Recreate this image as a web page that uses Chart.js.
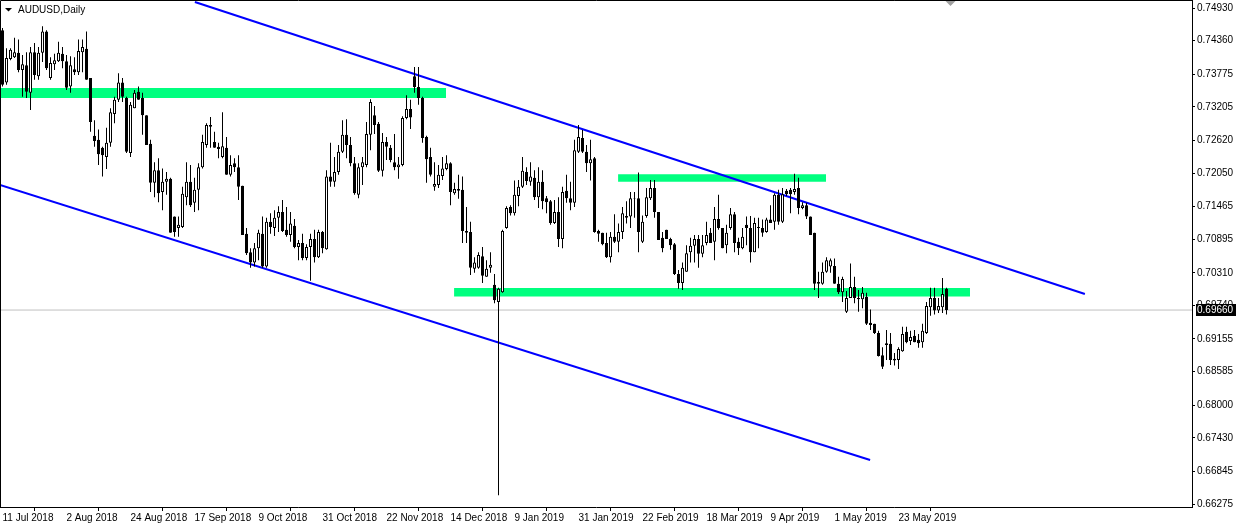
<!DOCTYPE html>
<html>
<head>
<meta charset="utf-8">
<script src="https://cdn.jsdelivr.net/npm/chart.js@4.4.1/dist/chart.umd.min.js"></script>
<style>
  html, body { margin: 0; padding: 0; background: #fff; }
  canvas { display: block; }
</style>
</head>
<body>
<canvas id="chart" width="1236" height="528"></canvas>
<script>
// AUDUSD daily bars (bar 0 = 11 Jul 2018)
const openP = [
  0.7454, 0.7363, 0.7404, 0.7407, 0.7415, 0.7385, 0.7393, 0.7345, 0.7416, 0.7374,
  0.7415, 0.7452, 0.7371, 0.7395, 0.7400, 0.7413, 0.7400, 0.7356, 0.7386, 0.7381,
  0.7416, 0.7422, 0.7371, 0.7270, 0.7263, 0.7249, 0.7233, 0.7258, 0.7308, 0.7333,
  0.7363, 0.7336, 0.7240, 0.7318, 0.7347, 0.7336, 0.7306, 0.7256, 0.7188, 0.7210,
  0.7172, 0.7190, 0.7195, 0.7129, 0.7109, 0.7111, 0.7163, 0.7190, 0.7153, 0.7176,
  0.7215, 0.7254, 0.7289, 0.7259, 0.7251, 0.7233, 0.7249, 0.7202, 0.7222, 0.7215,
  0.7183, 0.7099, 0.7067, 0.7049, 0.7074, 0.7099, 0.7042, 0.7120, 0.7109, 0.7127,
  0.7137, 0.7106, 0.7097, 0.7113, 0.7076, 0.7083, 0.7057, 0.7076, 0.7090, 0.7058,
  0.7102, 0.7072, 0.7199, 0.7190, 0.7207, 0.7242, 0.7272, 0.7254, 0.7222, 0.7167,
  0.7215, 0.7219, 0.7272, 0.7306, 0.7291, 0.7209, 0.7259, 0.7249, 0.7224, 0.7215,
  0.7219, 0.7301, 0.7317, 0.7374, 0.7355, 0.7336, 0.7268, 0.7233, 0.7181, 0.7184,
  0.7200, 0.7212, 0.7222, 0.7170, 0.7177, 0.7176, 0.7104, 0.7102, 0.7038, 0.7040,
  0.7060, 0.7024, 0.7040, 0.7010, 0.6980, 0.6997, 0.7109, 0.7146, 0.7135, 0.7165,
  0.7181, 0.7207, 0.7190, 0.7197, 0.7163, 0.7190, 0.7161, 0.7156, 0.7118, 0.7137,
  0.7090, 0.7174, 0.7161, 0.7153, 0.7242, 0.7266, 0.7242, 0.7222, 0.7231, 0.7104,
  0.7101, 0.7083, 0.7058, 0.7094, 0.7085, 0.7102, 0.7130, 0.7129, 0.7161, 0.7161,
  0.7085, 0.7130, 0.7161, 0.7179, 0.7137, 0.7092, 0.7106, 0.7090, 0.7081, 0.7029,
  0.7013, 0.7033, 0.7067, 0.7078, 0.7090, 0.7064, 0.7083, 0.7101, 0.7085, 0.7125,
  0.7109, 0.7079, 0.7109, 0.7133, 0.7085, 0.7074, 0.7115, 0.7109, 0.7067, 0.7111,
  0.7109, 0.7102, 0.7124, 0.7120, 0.7167, 0.7120, 0.7174, 0.7176, 0.7172, 0.7179,
  0.7144, 0.7149, 0.7129, 0.7101, 0.7015, 0.7012, 0.7033, 0.7042, 0.7043, 0.7012,
  0.6997, 0.6963, 0.6987, 0.7006, 0.6987, 0.6985, 0.6989, 0.6944, 0.6942, 0.6926,
  0.6887, 0.6905, 0.6907, 0.6881, 0.6879, 0.6894, 0.6928, 0.6912, 0.6921, 0.6914,
  0.6910, 0.6926, 0.6971, 0.6987, 0.6965, 0.6971, 0.7003
];
const highP = [
  0.7458, 0.7423, 0.7423, 0.7441, 0.7438, 0.7411, 0.7416, 0.7425, 0.7432, 0.7425,
  0.7461, 0.7454, 0.7407, 0.7413, 0.7434, 0.7425, 0.7411, 0.7409, 0.7407, 0.7438,
  0.7438, 0.7452, 0.7371, 0.7297, 0.7281, 0.7251, 0.7284, 0.7318, 0.7338, 0.7379,
  0.7371, 0.7338, 0.7329, 0.7350, 0.7356, 0.7345, 0.7306, 0.7263, 0.7224, 0.7231,
  0.7213, 0.7207, 0.7197, 0.7129, 0.7129, 0.7181, 0.7224, 0.7219, 0.7197, 0.7222,
  0.7272, 0.7292, 0.7303, 0.7277, 0.7258, 0.7311, 0.7268, 0.7236, 0.7231, 0.7236,
  0.7183, 0.7109, 0.7074, 0.7083, 0.7106, 0.7129, 0.7127, 0.7135, 0.7140, 0.7147,
  0.7158, 0.7146, 0.7137, 0.7125, 0.7088, 0.7099, 0.7081, 0.7099, 0.7106, 0.7106,
  0.7104, 0.7210, 0.7258, 0.7233, 0.7254, 0.7297, 0.7299, 0.7268, 0.7233, 0.7222,
  0.7233, 0.7294, 0.7334, 0.7322, 0.7294, 0.7275, 0.7268, 0.7254, 0.7273, 0.7233,
  0.7304, 0.7341, 0.7333, 0.7390, 0.7390, 0.7338, 0.7270, 0.7249, 0.7224, 0.7219,
  0.7233, 0.7236, 0.7224, 0.7188, 0.7202, 0.7199, 0.7146, 0.7120, 0.7058, 0.7067,
  0.7076, 0.7053, 0.7067, 0.7029, 0.7005, 0.7106, 0.7147, 0.7149, 0.7192, 0.7193,
  0.7233, 0.7215, 0.7224, 0.7210, 0.7215, 0.7210, 0.7165, 0.7158, 0.7158, 0.7163,
  0.7181, 0.7202, 0.7190, 0.7263, 0.7289, 0.7280, 0.7254, 0.7263, 0.7233, 0.7106,
  0.7101, 0.7101, 0.7102, 0.7133, 0.7117, 0.7146, 0.7156, 0.7172, 0.7172, 0.7206,
  0.7131, 0.7179, 0.7193, 0.7193, 0.7137, 0.7102, 0.7106, 0.7092, 0.7083, 0.7036,
  0.7049, 0.7079, 0.7092, 0.7097, 0.7097, 0.7097, 0.7120, 0.7109, 0.7146, 0.7167,
  0.7109, 0.7115, 0.7144, 0.7137, 0.7092, 0.7109, 0.7129, 0.7130, 0.7127, 0.7127,
  0.7124, 0.7127, 0.7149, 0.7170, 0.7176, 0.7179, 0.7177, 0.7179, 0.7204, 0.7197,
  0.7154, 0.7153, 0.7129, 0.7101, 0.7033, 0.7049, 0.7058, 0.7056, 0.7056, 0.7024,
  0.7024, 0.6999, 0.7047, 0.7024, 0.7001, 0.7006, 0.6996, 0.6967, 0.6942, 0.6930,
  0.6901, 0.6931, 0.6926, 0.6891, 0.6901, 0.6937, 0.6937, 0.6930, 0.6931, 0.6924,
  0.6942, 0.6980, 0.7005, 0.7005, 0.6987, 0.7022, 0.7005
];
const lowP = [
  0.7356, 0.7359, 0.7402, 0.7406, 0.7381, 0.7338, 0.7336, 0.7315, 0.7368, 0.7368,
  0.7399, 0.7385, 0.7368, 0.7385, 0.7399, 0.7388, 0.7350, 0.7345, 0.7376, 0.7376,
  0.7381, 0.7368, 0.7277, 0.7251, 0.7219, 0.7199, 0.7212, 0.7251, 0.7292, 0.7329,
  0.7329, 0.7240, 0.7233, 0.7318, 0.7333, 0.7272, 0.7254, 0.7172, 0.7163, 0.7154,
  0.7140, 0.7167, 0.7101, 0.7094, 0.7094, 0.7109, 0.7149, 0.7146, 0.7137, 0.7140,
  0.7213, 0.7249, 0.7249, 0.7249, 0.7231, 0.7231, 0.7202, 0.7199, 0.7207, 0.7158,
  0.7097, 0.7062, 0.7040, 0.7042, 0.7053, 0.7040, 0.7040, 0.7099, 0.7095, 0.7102,
  0.7102, 0.7094, 0.7085, 0.7074, 0.7053, 0.7053, 0.7053, 0.7017, 0.7049, 0.7057,
  0.7065, 0.7071, 0.7181, 0.7181, 0.7202, 0.7240, 0.7231, 0.7217, 0.7167, 0.7161,
  0.7184, 0.7215, 0.7245, 0.7273, 0.7207, 0.7199, 0.7228, 0.7224, 0.7210, 0.7195,
  0.7217, 0.7299, 0.7282, 0.7345, 0.7324, 0.7258, 0.7188, 0.7199, 0.7174, 0.7179,
  0.7193, 0.7210, 0.7149, 0.7167, 0.7160, 0.7083, 0.7083, 0.7027, 0.7031, 0.7038,
  0.7013, 0.7024, 0.7031, 0.6978, 0.6643, 0.6996, 0.7108, 0.7131, 0.7131, 0.7147,
  0.7179, 0.7184, 0.7183, 0.7158, 0.7144, 0.7142, 0.7135, 0.7115, 0.7116, 0.7076,
  0.7074, 0.7153, 0.7140, 0.7146, 0.7240, 0.7240, 0.7207, 0.7192, 0.7101, 0.7085,
  0.7079, 0.7057, 0.7049, 0.7083, 0.7067, 0.7090, 0.7117, 0.7109, 0.7127, 0.7067,
  0.7083, 0.7127, 0.7158, 0.7127, 0.7088, 0.7067, 0.7090, 0.7071, 0.7027, 0.7003,
  0.7001, 0.7033, 0.7049, 0.7049, 0.7040, 0.7058, 0.7079, 0.7083, 0.7053, 0.7106,
  0.7074, 0.7065, 0.7106, 0.7067, 0.7062, 0.7072, 0.7079, 0.7049, 0.7067, 0.7074,
  0.7094, 0.7101, 0.7118, 0.7106, 0.7115, 0.7118, 0.7165, 0.7135, 0.7167, 0.7133,
  0.7142, 0.7125, 0.7097, 0.7001, 0.6987, 0.7010, 0.7031, 0.7031, 0.7012, 0.6994,
  0.6980, 0.6961, 0.6987, 0.6978, 0.6963, 0.6969, 0.6940, 0.6931, 0.6924, 0.6885,
  0.6863, 0.6879, 0.6870, 0.6869, 0.6863, 0.6893, 0.6908, 0.6905, 0.6910, 0.6900,
  0.6900, 0.6924, 0.6956, 0.6958, 0.6961, 0.6961, 0.6958
];
const closeP = [
  0.7359, 0.7406, 0.7420, 0.7416, 0.7385, 0.7395, 0.7347, 0.7416, 0.7376, 0.7415,
  0.7452, 0.7388, 0.7397, 0.7402, 0.7415, 0.7400, 0.7354, 0.7393, 0.7381, 0.7418,
  0.7425, 0.7368, 0.7294, 0.7261, 0.7238, 0.7236, 0.7258, 0.7311, 0.7333, 0.7363,
  0.7338, 0.7242, 0.7324, 0.7345, 0.7333, 0.7306, 0.7254, 0.7188, 0.7210, 0.7170,
  0.7190, 0.7195, 0.7101, 0.7102, 0.7115, 0.7169, 0.7190, 0.7149, 0.7176, 0.7215,
  0.7259, 0.7289, 0.7286, 0.7249, 0.7247, 0.7252, 0.7202, 0.7219, 0.7215, 0.7181,
  0.7097, 0.7065, 0.7049, 0.7074, 0.7101, 0.7042, 0.7120, 0.7111, 0.7127, 0.7137,
  0.7104, 0.7097, 0.7117, 0.7076, 0.7083, 0.7057, 0.7076, 0.7090, 0.7058, 0.7102,
  0.7074, 0.7199, 0.7190, 0.7207, 0.7242, 0.7272, 0.7254, 0.7222, 0.7170, 0.7215,
  0.7224, 0.7273, 0.7329, 0.7289, 0.7209, 0.7259, 0.7251, 0.7228, 0.7215, 0.7220,
  0.7301, 0.7317, 0.7302, 0.7355, 0.7336, 0.7266, 0.7229, 0.7202, 0.7186, 0.7202,
  0.7213, 0.7222, 0.7172, 0.7177, 0.7174, 0.7104, 0.7101, 0.7040, 0.7049, 0.7062,
  0.7026, 0.7038, 0.7045, 0.6983, 0.7003, 0.7104, 0.7144, 0.7135, 0.7167, 0.7181,
  0.7209, 0.7191, 0.7199, 0.7163, 0.7190, 0.7156, 0.7154, 0.7118, 0.7137, 0.7090,
  0.7172, 0.7161, 0.7153, 0.7245, 0.7268, 0.7242, 0.7222, 0.7229, 0.7102, 0.7099,
  0.7081, 0.7058, 0.7094, 0.7085, 0.7102, 0.7135, 0.7127, 0.7161, 0.7160, 0.7102,
  0.7120, 0.7163, 0.7179, 0.7137, 0.7088, 0.7074, 0.7090, 0.7079, 0.7029, 0.7013,
  0.7040, 0.7065, 0.7078, 0.7090, 0.7064, 0.7079, 0.7097, 0.7083, 0.7125, 0.7109,
  0.7074, 0.7101, 0.7133, 0.7083, 0.7074, 0.7094, 0.7109, 0.7067, 0.7118, 0.7109,
  0.7101, 0.7124, 0.7118, 0.7167, 0.7120, 0.7168, 0.7168, 0.7168, 0.7177, 0.7144,
  0.7149, 0.7129, 0.7097, 0.7012, 0.7012, 0.7033, 0.7053, 0.7053, 0.7012, 0.6997,
  0.7020, 0.6987, 0.7006, 0.6987, 0.6985, 0.6996, 0.6942, 0.6940, 0.6926, 0.6886,
  0.6867, 0.6908, 0.6879, 0.6878, 0.6898, 0.6924, 0.6910, 0.6919, 0.6910, 0.6908,
  0.6930, 0.6973, 0.6987, 0.6965, 0.6973, 0.6994, 0.6966
];

// axes
const priceTicks = [0.74930, 0.74360, 0.73775, 0.73205, 0.72620, 0.72050, 0.71465, 0.70895,
  0.70310, 0.69740, 0.69155, 0.68585, 0.68000, 0.67430, 0.66845, 0.66275];
const dateLabels = ["11 Jul 2018", "2 Aug 2018", "24 Aug 2018", "17 Sep 2018", "9 Oct 2018",
  "31 Oct 2018", "22 Nov 2018", "14 Dec 2018", "9 Jan 2019", "31 Jan 2019", "22 Feb 2019",
  "18 Mar 2019", "9 Apr 2019", "1 May 2019", "23 May 2019"];
const dateTickBars = [0, 16, 32, 48, 64, 80, 96, 112, 128, 144, 160, 176, 192, 208, 224];
const xMin = -0.625, xMax = 297.375;
const yMin = 0.66223, yMax = 0.75070;

// drawn objects: green rectangles (bar from/to, price top/bottom) and two trend lines
const bandFrom = [-0.625, 153.9, 112.9];
const bandTo = [110.9, 205.9, 241.9];
const bandTop = [0.73534, 0.72028, 0.70044];
const bandBottom = [0.73360, 0.71899, 0.69896];
const upperTrend = [{ x: 48.1, y: 0.75035 }, { x: 270.6, y: 0.69940 }];
const lowerTrend = [{ x: -0.625, y: 0.71842 }, { x: 216.9, y: 0.67043 }];
const lastPrice = 0.69660;
const symbolTitle = "AUDUSD,Daily";

const FONT = '"Liberation Sans", Arial, sans-serif';

let wicks = [], bodies = [];
for (let i = 0; i < openP.length; i++) {
    wicks.push({ x: i, y: [lowP[i], highP[i]] });
    bodies.push({ x: i, y: [Math.min(openP[i], closeP[i]), Math.max(openP[i], closeP[i])] });
}
const isBull = i => closeP[i] >= openP[i];

let datasets = [];
datasets.push({
    type: 'line', order: 6,
    data: [{ x: xMin, y: lastPrice }, { x: xMax, y: lastPrice }],
    borderColor: '#C0C0C0', borderWidth: 1, pointRadius: 0
});
for (let b = 0; b < bandTop.length; b++) {
    datasets.push({
        type: 'line', order: 5,
        data: [{ x: bandFrom[b], y: bandTop[b] }, { x: bandTo[b], y: bandTop[b] }],
        borderColor: 'rgba(0,0,0,0)', borderWidth: 0, pointRadius: 0,
        fill: { value: bandBottom[b] }, backgroundColor: '#00FF7F'
    });
}
[upperTrend, lowerTrend].forEach(t => datasets.push({
    type: 'line', order: 4, data: t,
    borderColor: '#0000FF', borderWidth: 2, pointRadius: 0, fill: false
}));
datasets.push({
    type: 'bar', order: 2, data: wicks, grouped: false,
    barThickness: 1, backgroundColor: '#000', borderWidth: 0, inflateAmount: 0
});
datasets.push({
    type: 'bar', order: 1, data: bodies, grouped: false,
    barThickness: 3, inflateAmount: 0, borderSkipped: false, borderWidth: 1,
    borderColor: '#000',
    backgroundColor: ctx => isBull(ctx.dataIndex) ? '#FFFFFF' : '#000000'
});

// frame, title, shift marker and the bid label
const decor = {
    id: 'decor',
    afterDraw(chart) {
        const { ctx, chartArea: a, scales } = chart;
        ctx.save();
        ctx.strokeStyle = '#000';
        ctx.lineWidth = 1;
        ctx.beginPath();
        ctx.moveTo(a.left + 0.5, a.bottom);
        ctx.lineTo(a.left + 0.5, a.top + 0.5);
        ctx.lineTo(a.right, a.top + 0.5);
        ctx.stroke();

        ctx.fillStyle = '#000';
        ctx.beginPath();
        ctx.moveTo(5, 8); ctx.lineTo(12, 8); ctx.lineTo(8.5, 11.5);
        ctx.closePath(); ctx.fill();
        ctx.font = '10px ' + FONT;
        ctx.textBaseline = 'middle';
        ctx.textAlign = 'left';
        ctx.fillText(symbolTitle, 18, 10);

        const sx = scales.x.getPixelForValue(openP.length);
        ctx.fillStyle = '#A0A0A0';
        ctx.beginPath();
        ctx.moveTo(sx - 5, a.top + 1); ctx.lineTo(sx + 5, a.top + 1); ctx.lineTo(sx, a.top + 6);
        ctx.closePath(); ctx.fill();

        const py = Math.round(scales.y.getPixelForValue(lastPrice));
        ctx.fillStyle = '#000';
        ctx.fillRect(a.right + 4, py - 6, chart.width - a.right - 4, 12);
        ctx.fillStyle = '#FFF';
        ctx.fillText(lastPrice.toFixed(5), a.right + 5, py + 0.5);
        ctx.restore();
    }
};

new Chart(document.getElementById('chart'), {
    type: 'bar',
    data: { datasets: datasets },
    plugins: [decor],
    options: {
        responsive: false,
        animation: false,
        layout: { padding: 0 },
        plugins: { legend: { display: false }, tooltip: { enabled: false } },
        scales: {
            x: {
                type: 'linear', min: xMin, max: xMax, offset: false, bounds: 'data',
                grid: { drawOnChartArea: false, drawTicks: true, tickLength: 4, color: '#000' },
                border: { display: true, color: '#000' },
                afterBuildTicks: s => { s.ticks = dateTickBars.map(v => ({ value: v })); },
                afterFit: s => { s.height = 21; s.paddingLeft = 0; s.paddingRight = 0; },
                ticks: {
                    autoSkip: false, maxRotation: 0, align: 'start', padding: 1,
                    color: '#000', font: { family: FONT, size: 10 },
                    callback: (v, i) => dateLabels[i]
                }
            },
            y: {
                type: 'linear', position: 'right', min: yMin, max: yMax, bounds: 'data',
                grid: { drawOnChartArea: false, drawTicks: true, tickLength: 3, color: '#000' },
                border: { display: true, color: '#000' },
                afterBuildTicks: s => { s.ticks = priceTicks.map(v => ({ value: v })); },
                afterFit: s => { s.width = 44; s.paddingTop = 0; s.paddingBottom = 0; },
                ticks: {
                    autoSkip: false, padding: 2, crossAlign: 'near',
                    color: '#000', font: { family: FONT, size: 10 },
                    callback: v => v.toFixed(5)
                }
            }
        }
    }
});
</script>
</body>
</html>
